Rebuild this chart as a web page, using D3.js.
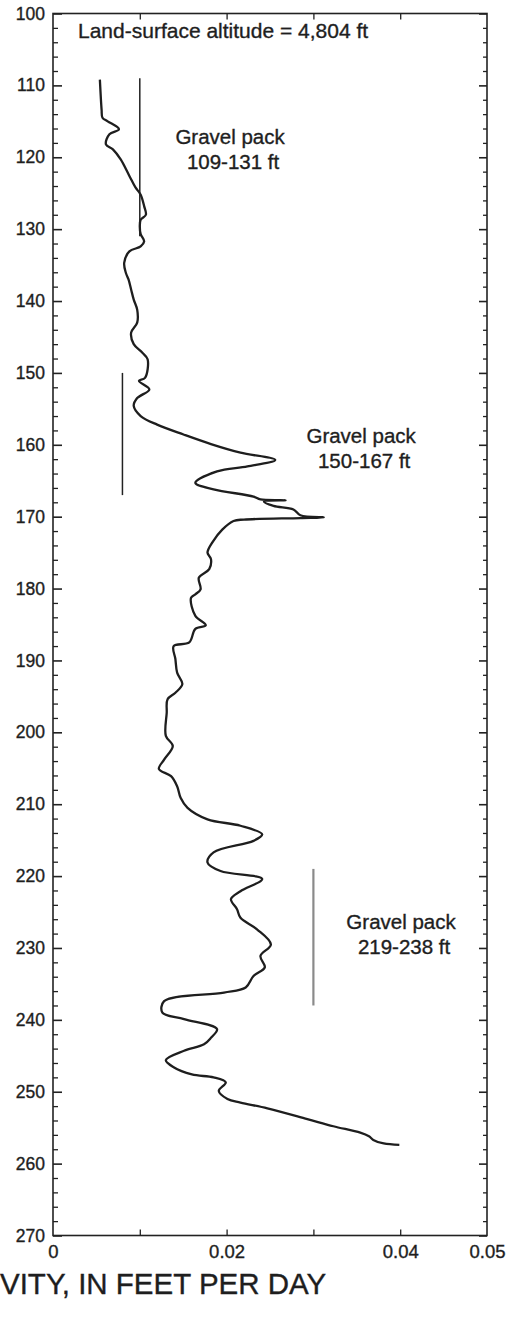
<!DOCTYPE html>
<html>
<head>
<meta charset="utf-8">
<title>Hydraulic conductivity log</title>
<style>
body { margin: 0; background: #fff; }
text { font-family: "Liberation Sans", Arial, sans-serif; fill: #1e1e1e; stroke: #1e1e1e; stroke-width: 0.35px; }
.axis path, .axis line { stroke: #222; stroke-width: 1.6px; }
.minor line { stroke-width: 1.3px; }
.log { fill: none; stroke: #1e1e1e; stroke-width: 2.3px; stroke-linejoin: round; }
</style>
</head>
<body>
<script src="https://cdnjs.cloudflare.com/ajax/libs/d3/7.8.5/d3.min.js"></script>
<script>

// depth below land surface, ft
var depth = [109.2, 113.4, 114.5, 115.0, 116.1, 116.8, 118.2, 118.9, 120.3, 122.6,
  124.2, 125.2, 126.8, 128.0, 128.7, 129.6, 130.7, 131.7, 132.4, 133.1,
  134.7, 136.1, 137.0, 138.4, 139.8, 141.2, 143.0, 144.4, 146.0, 147.2,
  148.1, 150.7, 151.1, 152.3, 153.5, 154.6, 156.0, 157.2, 158.6, 159.9,
  161.1, 162.1, 163.0, 163.7, 165.3, 166.2, 167.2, 167.6, 167.7, 167.9,
  168.5, 169.0, 169.8, 170.1, 170.2, 170.4, 170.6, 171.8, 173.5, 175.0,
  175.9, 177.3, 178.5, 180.1, 180.8, 181.3, 183.8, 185.1, 185.6, 187.5,
  188.0, 189.8, 191.7, 193.3, 194.5, 195.4, 197.3, 200.5, 201.9, 203.8,
  205.1, 206.1, 207.5, 209.1, 210.5, 212.1, 213.0, 214.2, 215.1, 216.7,
  218.1, 219.3, 220.4, 222.1, 223.2, 224.6, 225.8, 227.4, 229.5, 231.1,
  232.7, 233.9, 235.5, 236.2, 237.4, 239.0, 239.9, 241.3, 242.5, 243.4,
  244.3, 245.6, 246.6, 247.6, 248.0, 248.7, 249.9, 251.0, 251.5, 252.3,
  253.8, 254.8, 255.7, 256.2, 256.7, 257.2, 257.4];

// hydraulic conductivity, ft/d
var conductivity = [0.0054, 0.0056, 0.0057, 0.0063, 0.0076, 0.0065, 0.0061, 0.0069, 0.0078, 0.0088,
  0.0095, 0.0101, 0.0105, 0.0107, 0.0101, 0.0100, 0.0101, 0.0105, 0.0101, 0.0088,
  0.0082, 0.0084, 0.0087, 0.0090, 0.0093, 0.0097, 0.0097, 0.0090, 0.0093, 0.0103,
  0.0109, 0.0106, 0.0099, 0.0111, 0.0097, 0.0093, 0.0101, 0.0120, 0.0151, 0.0182,
  0.0216, 0.0256, 0.0224, 0.0189, 0.0164, 0.0185, 0.0231, 0.0239, 0.0268, 0.0243,
  0.0254, 0.0277, 0.0285, 0.0312, 0.0285, 0.0220, 0.0208, 0.0195, 0.0184, 0.0178,
  0.0182, 0.0180, 0.0168, 0.0170, 0.0164, 0.0159, 0.0164, 0.0176, 0.0164, 0.0157,
  0.0139, 0.0141, 0.0143, 0.0149, 0.0141, 0.0132, 0.0131, 0.0130, 0.0138, 0.0128,
  0.0122, 0.0136, 0.0143, 0.0147, 0.0155, 0.0178, 0.0216, 0.0241, 0.0231, 0.0185,
  0.0178, 0.0193, 0.0241, 0.0216, 0.0205, 0.0212, 0.0216, 0.0235, 0.0251, 0.0239,
  0.0244, 0.0231, 0.0222, 0.0197, 0.0128, 0.0126, 0.0151, 0.0189, 0.0182, 0.0174,
  0.0151, 0.0130, 0.0139, 0.0160, 0.0185, 0.0199, 0.0191, 0.0201, 0.0216, 0.0247,
  0.0293, 0.0323, 0.0354, 0.0364, 0.0369, 0.0381, 0.0399];

// gravel pack intervals
var packTop = [109, 150, 219];
var packBottom = [131, 167, 238];
var packK = [0.010, 0.008, 0.030];
var packLabels = ["109-131 ft", "150-167 ft", "219-238 ft"];

var xTicks = [0, 0.02, 0.04, 0.05];
var yTicks = d3.range(100, 271, 10);

var width = 513, height = 1317;
var plotLeft = 53, plotRight = 487, plotTop = 13.5, plotBottom = 1235.5;

var x = d3.scaleLinear().domain([0, 0.05]).range([plotLeft, plotRight]);
var y = d3.scaleLinear().domain([100, 270]).range([plotTop, plotBottom]);

var svg = d3.select("body").append("svg")
    .attr("width", width)
    .attr("height", height);

// frame
svg.append("rect")
    .attr("x", plotLeft).attr("y", plotTop)
    .attr("width", plotRight - plotLeft).attr("height", plotBottom - plotTop)
    .attr("fill", "none").attr("stroke", "#222").attr("stroke-width", 1.6);

var minorY = d3.range(100, 271, 2).filter(function(d) { return d % 10 !== 0; });
var styleAxis = function(size) {
  return function(g) {
    g.select(".domain").remove();
    g.selectAll("text").style("font-size", size)
      .style("font-family", "'Liberation Sans', Arial, sans-serif");
  };
};

// left axis
svg.append("g").attr("class", "axis")
    .attr("transform", "translate(" + plotLeft + ",0)")
    .call(d3.axisLeft(y).tickValues(yTicks).tickSize(-9).tickPadding(8))
    .call(styleAxis("17.5px"));
svg.append("g").attr("class", "axis minor")
    .attr("transform", "translate(" + plotLeft + ",0)")
    .call(d3.axisLeft(y).tickValues(minorY).tickSize(-5).tickFormat(""))
    .call(styleAxis("17px"));

// right axis
svg.append("g").attr("class", "axis")
    .attr("transform", "translate(" + plotRight + ",0)")
    .call(d3.axisRight(y).tickValues(yTicks).tickSize(-8).tickFormat(""))
    .call(styleAxis("17px"));
svg.append("g").attr("class", "axis minor")
    .attr("transform", "translate(" + plotRight + ",0)")
    .call(d3.axisRight(y).tickValues(minorY).tickSize(-4).tickFormat(""))
    .call(styleAxis("17px"));

// bottom axis
svg.append("g").attr("class", "axis")
    .attr("transform", "translate(0," + plotBottom + ")")
    .call(d3.axisBottom(x).tickValues(xTicks).tickSize(0).tickPadding(9)
      .tickFormat(function(d) { return d === 0 ? "0" : d3.format(".2f")(d); }))
    .call(styleAxis("18.5px"));
svg.append("g").attr("class", "axis minor")
    .attr("transform", "translate(0," + plotBottom + ")")
    .call(d3.axisBottom(x).tickValues([0.01, 0.02, 0.03, 0.04]).tickSize(-6).tickFormat(""))
    .call(styleAxis("17px"));

// top axis
svg.append("g").attr("class", "axis minor")
    .attr("transform", "translate(0," + plotTop + ")")
    .call(d3.axisTop(x).tickValues([0.01, 0.02, 0.03, 0.04]).tickSize(-6).tickFormat(""))
    .call(styleAxis("17px"));

// x title (left part cut off in the original figure)
svg.append("text")
    .attr("x", 0).attr("y", 1294)
    .style("font-size", "29.5px")
    .text("VITY, IN FEET PER DAY");

svg.append("text")
    .attr("x", 78).attr("y", 38)
    .style("font-size", "21px")
    .text("Land-surface altitude = 4,804 ft");

// gravel pack bars
svg.selectAll(".pack")
    .data(packTop)
  .enter().append("line")
    .attr("class", "pack")
    .attr("x1", function(d, i) { return x(packK[i]); })
    .attr("x2", function(d, i) { return x(packK[i]); })
    .attr("y1", function(d) { return y(d); })
    .attr("y2", function(d, i) { return y(packBottom[i]); })
    .attr("stroke", function(d, i) { return i === 2 ? "#8a8a8a" : "#222"; })
    .attr("stroke-width", function(d, i) { return i === 2 ? 2.2 : 1.5; });

// gravel pack labels
var labelK = [0.0204, 0.0355, 0.0401];
var labelDepth = [118.2, 159.8, 227.4];
var lab = svg.selectAll(".plab")
    .data(packLabels)
  .enter().append("text")
    .attr("class", "plab")
    .attr("text-anchor", "middle")
    .attr("x", function(d, i) { return x(labelK[i]); })
    .attr("y", function(d, i) { return y(labelDepth[i]); })
    .style("font-size", "20.5px");
lab.append("tspan").text("Gravel pack");
lab.append("tspan")
    .attr("x", function(d, i) { return x(labelK[i]) + 3; })
    .attr("dy", 25)
    .text(function(d) { return d; });

// conductivity log
var line = d3.line()
    .x(function(d) { return x(conductivity[d]); })
    .y(function(d) { return y(depth[d]); })
    .curve(d3.curveCatmullRom.alpha(0.5));

svg.append("path")
    .datum(d3.range(depth.length))
    .attr("class", "log")
    .attr("d", line);

</script>
</body>
</html>
